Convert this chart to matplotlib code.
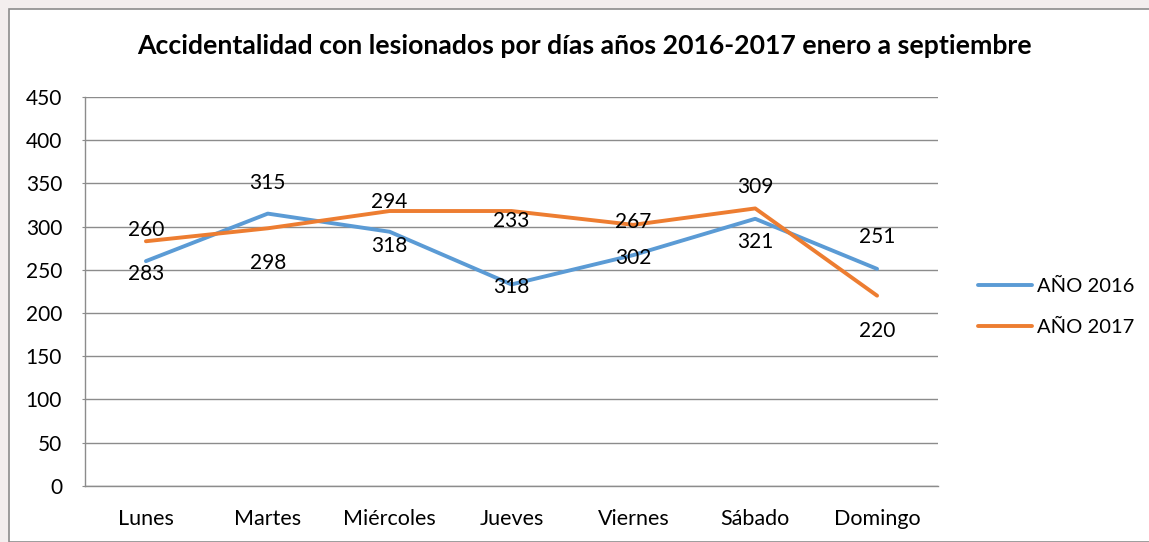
import matplotlib
matplotlib.use('Agg')
import matplotlib.pyplot as plt
from matplotlib.patches import Rectangle

# datos
dias = ['Lunes', 'Martes', 'Miércoles', 'Jueves', 'Viernes', 'Sábado', 'Domingo']
anio_2016 = [260, 315, 294, 233, 267, 309, 251]
anio_2017 = [283, 298, 318, 318, 302, 321, 220]
etiquetas_2016 = ['260', '315', '294', '233', '267', '309', '251']
etiquetas_2017 = ['283', '298', '318', '318', '302', '321', '220']
yticks = [0, 50, 100, 150, 200, 250, 300, 350, 400, 450]

# desplazamiento vertical de las etiquetas (pixeles)
off_2016 = [31, 31, 30, 63, 33, 32, 32]
off_2017 = [-33, -35, -35, -76, -33, -34, -35]

plt.rcParams['font.family'] = ['Lato', 'DejaVu Sans']

W, H = 1149, 542
fig = plt.figure(figsize=(W / 100, H / 100), dpi=100)
fig.patch.set_facecolor('#f3eeee')
fondo = Rectangle((8.5 / W, 0), 1, 1 - 8.5 / H, transform=fig.transFigure,
                  facecolor='white', edgecolor='#8c8c8c', lw=1.2, zorder=-5)
fig.add_artist(fondo)

ax = fig.add_axes([85 / W, (H - 485.7) / H, (938 - 85) / W, (485.7 - 97) / H])
ax.set_facecolor('none')

azul = '#5b9bd5'
naranja = '#ed7d31'
x = range(len(dias))
ax.plot(x, anio_2016, color=azul, lw=2.8, label='AÑO 2016', solid_capstyle='round')
ax.plot(x, anio_2017, color=naranja, lw=2.8, label='AÑO 2017', solid_capstyle='round')

for i in x:
    ax.annotate(etiquetas_2016[i], (i, anio_2016[i]), xytext=(0, off_2016[i]),
                textcoords='offset pixels', ha='center', va='center', fontsize=15)
    ax.annotate(etiquetas_2017[i], (i, anio_2017[i]), xytext=(0, off_2017[i]),
                textcoords='offset pixels', ha='center', va='center', fontsize=15)

ax.set_xlim(-0.5, 6.5)
ax.set_ylim(0, 450)
ax.set_yticks(yticks)
ax.set_xticks(list(x))
ax.set_xticklabels(dias)
ax.grid(axis='y', color='#8c8c8c', lw=1)
ax.set_axisbelow(True)
for s in ['top', 'right']:
    ax.spines[s].set_visible(False)
for s in ['left', 'bottom']:
    ax.spines[s].set_color('#8c8c8c')
    ax.spines[s].set_linewidth(1)
ax.tick_params(axis='y', length=2.5, color='#8c8c8c', pad=14, labelsize=15)
ax.tick_params(axis='x', length=0, pad=17, labelsize=15.5)

fig.text(584.5 / W, 1 - 46 / H, 'Accidentalidad con lesionados por días años 2016-2017 enero a septiembre',
         ha='center', va='center', fontsize=19.2, fontweight='bold')

fig.legend(loc='center left', bbox_to_anchor=(978 / W, 1 - 307 / H), frameon=False,
           fontsize=14.5, handlelength=2.7, handletextpad=0.25, labelspacing=1.2,
           borderpad=0, borderaxespad=0)

fig.savefig('out.png', dpi=100, facecolor=fig.get_facecolor())
